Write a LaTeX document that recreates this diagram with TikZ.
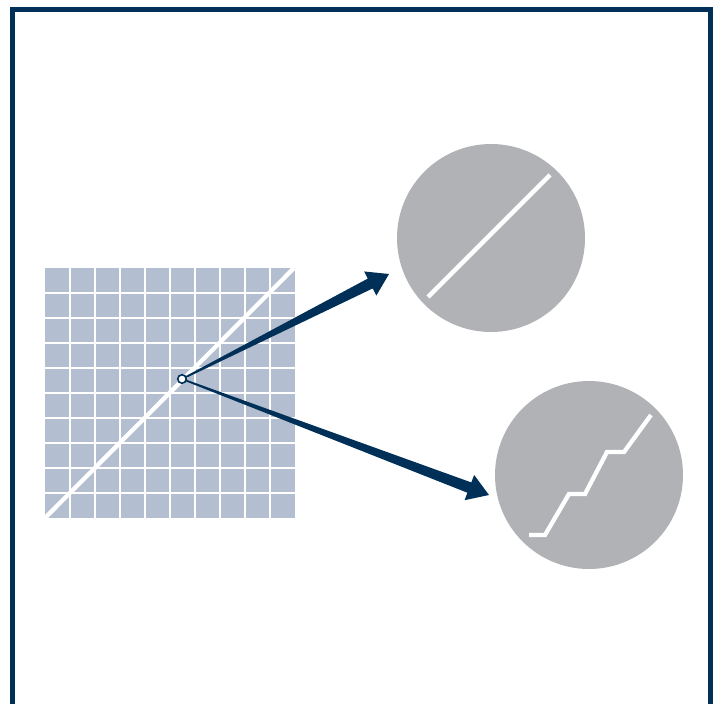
\documentclass[tikz,border=0pt]{standalone}
\usepackage{tikz}
\usetikzlibrary{calc,positioning,shapes.geometric}
\definecolor{navy}{RGB}{0,48,87}
\definecolor{gridblue}{RGB}{179,190,208}
\definecolor{lensgray}{RGB}{177,178,181}
\tikzset{
		frame/.style={draw=navy, line width=5pt},
		lens/.style={
			circle,
			fill=lensgray,
			minimum size=188pt,
			inner sep=0pt},
		signal/.style={draw=white, line width=4.3pt},
		gridline/.style={draw=white, line width=1.5pt},
		pointer/.style={fill=navy},
		probe/.style={
			circle,
			draw=navy, fill=white,
			line width=1.6pt,
			minimum size=8.5pt,
			inner sep=0pt},
	}
% wedge arrow: from, to, name of head base
\newcommand{\fatarrow}[3]{%
	\coordinate (#3) at ($(#2)!21pt!(#1)$);
	\fill[pointer] ($(#1)!0.8pt!90:(#2)$) -- ($(#3)!5.5pt!90:(#2)$) -- ($(#3)!13.5pt!90:(#2)$) -- (#2)
		-- ($(#3)!13.5pt!-90:(#2)$) -- ($(#3)!5.5pt!-90:(#2)$) -- ($(#1)!0.8pt!-90:(#2)$) -- cycle;}
\begin{document}
\begin{tikzpicture}[x=1pt, y=-1pt]
				\useasboundingbox (0,0) rectangle (721,704);
				\clip (0,0) rectangle (721,704);
				\draw[frame] (12.5,9.5) rectangle (710.5,730);
				
				%% sampled grid
				\fill[gridblue] (45,268) rectangle (295,518);
				\foreach \k in {1,...,9}{
					\draw[gridline] ({45+25*\k},268) -- ({45+25*\k},518);
					\draw[gridline] (45,{268+25*\k}) -- (295,{268+25*\k});
				}
				\coordinate (gridlo) at (45,518);
				\coordinate (gridhi) at (294,268);
				\draw[signal] (gridlo) -- (gridhi);
				
				%% the two views
				\node[lens] (smooth) at (491,238) {};
				\node[lens] (stairs) at (589,475) {};
				\draw[signal] (428,297) -- (550,175);
				\draw[signal, miter limit=4] (529,535) -- (545,535) -- (569,494) -- (585,494)
					-- (607,452) -- (624,452) -- (651,415);
				
				%% arrows out of the probe
				\coordinate (probept) at (182,379);
				\coordinate (tipA) at (389,274);
				\coordinate (tipB) at (489,495);
				\fatarrow{probept}{tipA}{baseA}
				\fatarrow{probept}{tipB}{baseB}
				\node[probe] (dot) at (probept) {};
				
				\end{tikzpicture}
\end{document}
